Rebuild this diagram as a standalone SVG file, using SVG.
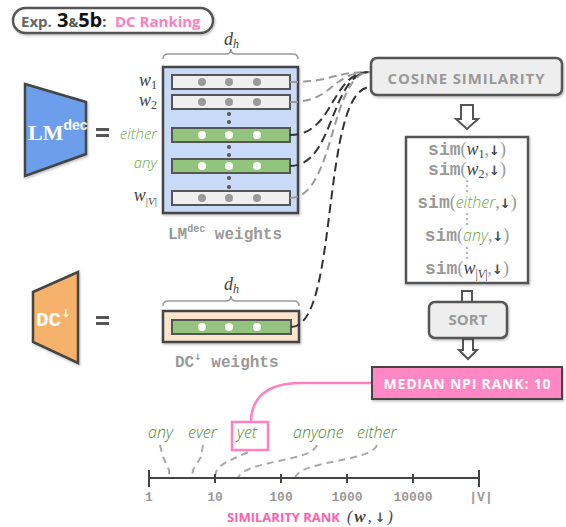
<svg xmlns="http://www.w3.org/2000/svg" width="566" height="527" viewBox="0 0 566 527">
<defs>
<filter id="sh" x="-10%" y="-10%" width="130%" height="140%"><feDropShadow dx="1" dy="1.5" stdDeviation="1" flood-color="#000" flood-opacity="0.25"/></filter>
<style>
.box{stroke:#555;stroke-width:2.5}
.rowg{fill:#efefef;stroke:#555;stroke-width:2}
.rowgr{fill:#93c47d;stroke:#555;stroke-width:2}
.dg{fill:#9a9a9a}
.dw{fill:#fff}
.vd{fill:#555}
.brace{fill:none;stroke:#9a9a9a;stroke-width:1.6}
.math{font-family:"Liberation Serif","DejaVu Serif",serif;font-style:italic;fill:#444}
.par{font-family:"Liberation Serif","DejaVu Serif",serif;font-style:normal;fill:#999}
.arr{font-family:"DejaVu Sans",sans-serif;font-weight:bold;fill:#444}
.hand{font-family:"Open Sans","DejaVu Sans",sans-serif;font-style:italic;font-weight:300}
.mono{font-family:"Liberation Mono","DejaVu Sans Mono",monospace;font-weight:bold}
.sans{font-family:"Open Sans","Liberation Sans",sans-serif;font-weight:bold}
.lite{fill:none;stroke:#999;stroke-width:2;stroke-dasharray:8 5}
.dark{fill:none;stroke:#333;stroke-width:2;stroke-dasharray:9 5}
.lead{fill:none;stroke:#aaa;stroke-width:2;stroke-dasharray:7 5}
.harrow{fill:#fff;stroke:#555;stroke-width:2;stroke-linejoin:miter}
</style>
</defs>
<rect width="566" height="527" fill="#fff"/>

<g id="title">
<rect x="13" y="8" width="200" height="25" rx="12.5" fill="#fff" stroke="#555" stroke-width="2.5" filter="url(#sh)"/>
<text y="27" class="sans" font-size="15"><tspan x="21" fill="#666">Exp.</tspan><tspan x="57" fill="#111" font-size="20">3</tspan><tspan fill="#555" font-size="13">&amp;</tspan><tspan fill="#111" font-size="20">5b</tspan><tspan fill="#555">:</tspan><tspan x="115" fill="#ff7fc0">DC Ranking</tspan></text>
</g>

<g id="lm-dec">
<polygon points="25,84 86,102 86,154 25,176" fill="#6d9eeb" stroke="#444" stroke-width="2.5" filter="url(#sh)"/>
<text x="28" y="140" font-size="22" fill="#fff" style="font-family:'Liberation Serif',serif;font-weight:bold">LM<tspan style="font-family:'Liberation Sans',sans-serif" font-size="14" dy="-10">dec</tspan></text>
</g>
<g id="eq1"><rect x="96" y="128" width="13" height="3" fill="#555"/><rect x="96" y="134" width="13" height="3" fill="#555"/></g>

<g id="lm-weights">
<path class="brace" d="M163,59 Q163,54 168,54 L226,54 Q231,54 231,49 Q231,54 236,54 L293,54 Q298,54 298,59"/>
<text x="224" y="45" class="math" font-size="18">d<tspan font-size="12" dy="3">h</tspan></text>
<rect x="163" y="67" width="135" height="146" fill="#c9daf8" stroke="#444" stroke-width="2.5" filter="url(#sh)"/>
<rect class="rowg" x="172" y="75" width="118" height="14"/>
<circle class="dg" cx="202" cy="82" r="4"/><circle class="dg" cx="229" cy="82" r="4"/><circle class="dg" cx="257" cy="82" r="4"/>
<rect class="rowg" x="172" y="95" width="118" height="14"/>
<circle class="dg" cx="202" cy="102" r="4"/><circle class="dg" cx="229" cy="102" r="4"/><circle class="dg" cx="257" cy="102" r="4"/>
<circle class="vd" cx="229" cy="114" r="2"/><circle class="vd" cx="229" cy="122" r="2"/>
<rect class="rowgr" x="172" y="128" width="118" height="14"/>
<circle class="dw" cx="202" cy="135" r="4"/><circle class="dw" cx="229" cy="135" r="4"/><circle class="dw" cx="257" cy="135" r="4"/>
<circle class="vd" cx="229" cy="147" r="2"/><circle class="vd" cx="229" cy="155" r="2"/>
<rect class="rowgr" x="172" y="159" width="118" height="14"/>
<circle class="dw" cx="202" cy="166" r="4"/><circle class="dw" cx="229" cy="166" r="4"/><circle class="dw" cx="257" cy="166" r="4"/>
<circle class="vd" cx="229" cy="178" r="2"/><circle class="vd" cx="229" cy="187" r="2"/>
<rect class="rowg" x="172" y="191" width="118" height="14"/>
<circle class="dg" cx="202" cy="198" r="4"/><circle class="dg" cx="229" cy="198" r="4"/><circle class="dg" cx="257" cy="198" r="4"/>
<text x="157" y="86" class="math" font-size="18" text-anchor="end">w<tspan font-size="12" dy="3" style="font-style:normal">1</tspan></text>
<text x="157" y="106" class="math" font-size="18" text-anchor="end">w<tspan font-size="12" dy="3" style="font-style:normal">2</tspan></text>
<text x="157" y="139" class="hand" font-size="15" fill="#6aa84f" text-anchor="end">either</text>
<text x="157" y="168" class="hand" font-size="15" fill="#6aa84f" text-anchor="end">any</text>
<text x="157" y="201" class="math" font-size="18" text-anchor="end">w<tspan font-size="11" dy="4" style="font-style:normal">|</tspan><tspan font-size="11">V</tspan><tspan font-size="11" style="font-style:normal">|</tspan></text>
<text x="168" y="239" class="mono" font-size="16" fill="#999">LM<tspan font-size="10" dy="-7">dec</tspan><tspan dy="7"> weights</tspan></text>
</g>

<g id="dc">
<polygon points="33,292 78,272 78,363 33,342" fill="#f6b26b" stroke="#444" stroke-width="2.5" filter="url(#sh)"/>
<text x="36" y="326" class="mono" font-size="21" fill="#fff">DC<tspan class="arr" style="fill:#fff" font-size="11" dy="-9">↓</tspan></text>
</g>
<g id="eq2"><rect x="96" y="316" width="13" height="3" fill="#555"/><rect x="96" y="322" width="13" height="3" fill="#555"/></g>

<g id="dc-weights">
<path class="brace" d="M163,306 Q163,301 168,301 L226,301 Q231,301 231,296 Q231,301 236,301 L294,301 Q299,301 299,306"/>
<text x="224" y="290" class="math" font-size="18">d<tspan font-size="12" dy="3">h</tspan></text>
<rect x="163" y="311" width="136" height="31" fill="#fce5cd" stroke="#444" stroke-width="2.5" filter="url(#sh)"/>
<rect class="rowgr" x="172" y="320" width="119" height="14"/>
<circle class="dw" cx="202" cy="327" r="4"/><circle class="dw" cx="229" cy="327" r="4"/><circle class="dw" cx="257" cy="327" r="4"/>
<text x="175" y="367" class="mono" font-size="16" fill="#999">DC<tspan class="arr" style="fill:#999" font-size="9" dy="-7">↓</tspan><tspan dy="7"> weights</tspan></text>
</g>

<g id="connectors">
<path class="lite" d="M290,82 C335,82 330,72 370,72"/>
<path class="lite" d="M290,102 C335,102 330,72 370,72"/>
<path class="dark" d="M290,135 C335,135 330,72 370,72"/>
<path class="dark" d="M290,166 C335,166 330,72 370,72"/>
<path class="lite" d="M290,198 C335,198 330,72 370,72"/>
<path class="dark" d="M291,327 C340,327 320,87 371,87"/>
<path class="harrow" d="M461,105 H473 V119 H478 L467,129 L456,119 H461 Z"/>
<path class="harrow" d="M462,291 H472 V305 H462 Z"/>
<path class="harrow" d="M463,339 H473 V350 H477 L468,359 L459,350 H463 Z"/>
<path fill="none" stroke="#ff80c0" stroke-width="2.5" d="M372,383 L300,383 C265,383 251,400 251,422"/>
<path class="lead" d="M160,445 L163,457 L169,470 L169,478"/>
<path class="lead" d="M203,445 L201,457 L193,470 L192,478"/>
<path class="lead" d="M248,452 C228,462 215,464 215,478"/>
<path class="lead" d="M317,445 C312,462 245,460 238,478"/>
<path class="lead" d="M377,445 C372,462 300,460 295,478"/>
</g>

<g id="cosine">
<rect class="box" x="371" y="58" width="191" height="37" rx="6" fill="#eeeeee" filter="url(#sh)"/>
<text x="466" y="84" class="sans" font-size="15" fill="#999" text-anchor="middle" textLength="157" lengthAdjust="spacing">COSINE SIMILARITY</text>
</g>

<g id="sims">
<rect class="box" x="406" y="137" width="122" height="146" fill="#fff" filter="url(#sh)"/>
<g font-size="18" text-anchor="middle">
<text x="467" y="155"><tspan class="mono" fill="#999">sim</tspan><tspan class="par">(</tspan><tspan class="math">w</tspan><tspan class="par" style="fill:#444" font-size="12" dy="3">1</tspan><tspan class="par" dy="-3">,</tspan><tspan class="arr" font-size="13">↓</tspan><tspan class="par">)</tspan></text>
<text x="467" y="175"><tspan class="mono" fill="#999">sim</tspan><tspan class="par">(</tspan><tspan class="math">w</tspan><tspan class="par" style="fill:#444" font-size="12" dy="3">2</tspan><tspan class="par" dy="-3">,</tspan><tspan class="arr" font-size="13">↓</tspan><tspan class="par">)</tspan></text>
<text x="467" y="208"><tspan class="mono" fill="#999">sim</tspan><tspan class="par">(</tspan><tspan class="hand" fill="#6aa84f" font-size="16">either</tspan><tspan class="par">,</tspan><tspan class="arr" font-size="13">↓</tspan><tspan class="par">)</tspan></text>
<text x="467" y="241"><tspan class="mono" fill="#999">sim</tspan><tspan class="par">(</tspan><tspan class="hand" fill="#6aa84f" font-size="16">any</tspan><tspan class="par">,</tspan><tspan class="arr" font-size="13">↓</tspan><tspan class="par">)</tspan></text>
<text x="467" y="274"><tspan class="mono" fill="#999">sim</tspan><tspan class="par">(</tspan><tspan class="math">w</tspan><tspan class="par" style="fill:#444" font-size="12" dy="4">|</tspan><tspan class="math" font-size="12">V</tspan><tspan class="par" style="fill:#444" font-size="12">|</tspan><tspan class="par" dy="-4">,</tspan><tspan class="arr" font-size="13">↓</tspan><tspan class="par">)</tspan></text>
</g>
<g fill="#bbb"><circle cx="467" cy="181" r="1.3"/><circle cx="467" cy="186" r="1.3"/><circle cx="467" cy="191" r="1.3"/>
<circle cx="467" cy="214" r="1.3"/><circle cx="467" cy="219" r="1.3"/><circle cx="467" cy="224" r="1.3"/>
<circle cx="467" cy="248" r="1.3"/><circle cx="467" cy="253" r="1.3"/><circle cx="467" cy="258" r="1.3"/></g>
</g>

<g id="sort">
<rect class="box" x="429" y="302" width="78" height="36" rx="6" fill="#eeeeee" filter="url(#sh)"/>
<text x="468" y="325" class="sans" font-size="15" fill="#999" text-anchor="middle">SORT</text>
</g>

<g id="median">
<rect x="372" y="367" width="190" height="32" fill="#ff88c4" stroke="#444" stroke-width="2" filter="url(#sh)"/>
<text x="467" y="389" class="sans" font-size="14" fill="#fff" text-anchor="middle" textLength="167" lengthAdjust="spacing">MEDIAN NPI RANK: 10</text>
</g>

<g id="words">
<rect x="232" y="422" width="36" height="28" fill="none" stroke="#ff80c0" stroke-width="2.5"/>
<g class="hand" font-size="16" fill="#4e8a2e">
<text x="148" y="438">any</text>
<text x="188" y="438">ever</text>
<text x="237" y="438">yet</text>
<text x="293" y="438">anyone</text>
<text x="357" y="438">either</text>
</g>
</g>

<g id="axis">
<line x1="149" y1="478" x2="479" y2="478" stroke="#444" stroke-width="2"/>
<line x1="149" y1="470" x2="149" y2="487" stroke="#444" stroke-width="2"/>
<line x1="479" y1="470" x2="479" y2="487" stroke="#444" stroke-width="2"/>
<g stroke="#444" stroke-width="2"><line x1="215" y1="474" x2="215" y2="483"/><line x1="281" y1="474" x2="281" y2="483"/><line x1="347" y1="474" x2="347" y2="483"/><line x1="413" y1="474" x2="413" y2="483"/></g>
<g class="mono" font-size="13" fill="#999" text-anchor="middle">
<text x="149" y="501">1</text><text x="215" y="501">10</text><text x="281" y="501">100</text><text x="347" y="501">1000</text><text x="413" y="501">10000</text><text x="481" y="501">|V|</text>
</g>
<text x="227" y="522" font-size="13"><tspan class="sans" fill="#ff5fb0">SIMILARITY RANK</tspan><tspan class="math" fill="#999" font-size="16" dx="7">(</tspan><tspan class="math" font-weight="bold" fill="#555" font-size="17" dx="2">w</tspan><tspan class="math" fill="#999" font-size="16" dx="2">,</tspan><tspan class="arr" font-size="13" dx="3" style="fill:#555">↓</tspan><tspan class="math" fill="#999" font-size="16" dx="2">)</tspan></text>
</g>
</svg>
